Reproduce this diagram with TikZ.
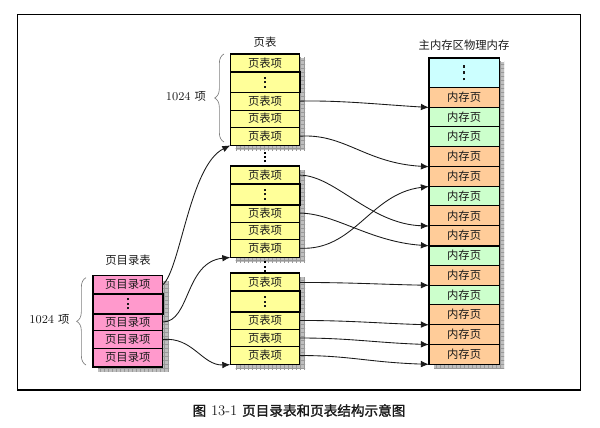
\documentclass[tikz,border=0pt]{standalone}
\usepackage{fontspec}
\newfontfamily\cjk{Noto Sans CJK SC}
\newfontfamily\cjkb[FakeBold=1.5]{Noto Sans CJK SC}
\usetikzlibrary{arrows.meta,patterns,decorations.pathreplacing}
\definecolor{dirpink}{HTML}{FF99CC}
\definecolor{ptyellow}{HTML}{FFFF99}
\definecolor{memorange}{HTML}{FFCC99}
\definecolor{memgreen}{HTML}{CCFFCC}
\definecolor{memcyan}{HTML}{CCFFFF}
\definecolor{inkc}{HTML}{1A1A1A}
\newcommand\mydots[2]{\vbox{\offinterlineskip\hbox{\rule{#1}{#1}}\vskip#2\hbox{\rule{#1}{#1}}\vskip#2\hbox{\rule{#1}{#1}}}}
\begin{document}
\begin{tikzpicture}[x=0.75pt,y=-0.75pt,
  cell/.style={draw=black, line width=0.6pt, inner sep=0pt, text=inkc, font=\cjk\fontsize{8.5}{10}\selectfont},
  dircell/.style={cell, fill=dirpink, minimum width=51.75pt},
  ptcell/.style={cell, fill=ptyellow, minimum width=51.45pt},
  memcell/.style={cell, minimum width=52.3pt, minimum height=14.82pt},
  thickline/.style={draw=black, line width=1.2pt},
  outerbox/.style={draw=black, line width=1.1pt},
  shadowbox/.style={fill=gray!50, postaction={pattern=grid, pattern color=gray!80}},
  link/.style={draw=inkc, line width=0.65pt, -{Latex[length=6pt,width=5pt]}},
  bracestyle/.style={draw=gray, line width=0.5pt, decorate, decoration={brace, amplitude=7pt}},
  lbl/.style={text=inkc, inner sep=0pt, font=\fontsize{9}{11}\selectfont},
  cjklbl/.style={text=inkc, inner sep=0pt, font=\cjk\fontsize{8.5}{10}\selectfont},
  vdotsnode/.style={inner sep=0pt, text=black}
]
\useasboundingbox (0,0) rectangle (600,428);
\draw[line width=0.9pt] (17.3,14.3) rectangle (580.5,390);

% shadows
\fill[shadowbox] (98,281) rectangle (169,371.7);
\foreach \T in {54,166,273.3}{
  \fill[shadowbox] (235.5,\T+4) rectangle (305,\T+96);
}
\fill[shadowbox] (434,62) rectangle (504,368);

% titles
\node[cjklbl] (tt) at (265,42.7) {页表};
\node[cjklbl] (td) at (128,260.7) {页目录表};
\node[cjklbl] (tm) at (464,45) {主内存区物理内存};

% directory
\node[dircell, minimum height=13.725pt] (d1) at (127.8,284.85) {页目录项};
\node[dircell, minimum height=14.475pt] (d2) at (127.8,303.65) {\mydots{1.5pt}{1.8pt}};
\node[dircell, minimum height=13.05pt] (d3) at (127.8,322) {页目录项};
\node[dircell, minimum height=13.2pt] (d4) at (127.8,339.5) {页目录项};
\node[dircell, minimum height=13.8pt] (d5) at (127.8,357.5) {页目录项};
\draw[outerbox] (d1.north west) rectangle (d5.south east);
\draw[thickline] (d2.north west) rectangle (d2.south east);

% page tables
\foreach \n/\T in {1/54,2/166,3/273.3}{
  \node[ptcell, minimum height=13.725pt] (t\n r1) at (265,\T+9.15) {页表项};
  \node[ptcell, minimum height=15pt] (t\n r2) at (265,\T+28.3) {\mydots{1.5pt}{1.8pt}};
  \node[ptcell, minimum height=13.275pt] (t\n r3) at (265,\T+47.15) {页表项};
  \node[ptcell, minimum height=13.05pt] (t\n r4) at (265,\T+64.7) {页表项};
  \node[ptcell, minimum height=13.2pt] (t\n r5) at (265,\T+82.2) {页表项};
  \draw[outerbox] (t\n r1.north west) rectangle (t\n r5.south east);
  \draw[thickline] (t\n r2.north west) rectangle (t\n r2.south east);
}
\node[vdotsnode] (g1) at (265,157) {\mydots{1.5pt}{1.8pt}};
\node[vdotsnode] (g2) at (265,266.5) {\mydots{1.5pt}{1.8pt}};

% memory
\node[memcell, fill=memcyan, minimum height=21.75pt] (m0) at (464.15,72.8) {\mydots{2pt}{2.6pt}};
\foreach \i/\c in {1/memorange,2/memgreen,3/memgreen,4/memorange,5/memorange,6/memgreen,7/memorange,8/memorange,9/memgreen,10/memorange,11/memgreen,12/memorange,13/memorange,14/memorange}{
  \node[memcell, fill=\c] (m\i) at (464.15,{87.3+19.76*(\i-0.5)}) {内存页};
}
\draw[outerbox] (m0.north west) rectangle (m14.south east);
\draw[thickline] (m0.north west) rectangle (m0.south east);
\draw[thickline] (m8.south west) -- (m8.south east);
\draw[thickline] (m13.south west) -- (m13.south east);

% braces and labels
\coordinate (b1s) at (224,142);
\coordinate (b1e) at (224,54);
\coordinate (b2s) at (86,365);
\coordinate (b2e) at (86,277.7);
\draw[bracestyle] (b1s) -- (b1e);
\draw[bracestyle] (b2s) -- (b2e);
\node[lbl] (lb1) at (186,96.7) {1024 {\cjk\fontsize{8.5}{10}\selectfont 项}};
\node[lbl] (lb2) at (49.5,319) {1024 {\cjk\fontsize{8.5}{10}\selectfont 项}};

% page table -> memory
\draw[link] (t1r3.east) .. controls +(40,-1) and +(-50,-3) .. (m1.south west);
\draw[link] (t1r5.east) .. controls +(45,-3) and +(-64,-3.7) .. (m4.south west);
\draw[link] (t2r1.east) .. controls +(35,0) and +(-59,-2) .. (m7.south west);
\draw[link] (t2r3.east) .. controls +(35,0) and +(-59,-4) .. (m8.south west);
\draw[link] (t2r5.east) .. controls +(55,3) and +(-59,7) .. (m5.south west);
\draw[link] (t3r1.east) .. controls +(50,0) and +(-50,-1) .. (m10.south west);
\draw[link] (t3r3.east) .. controls +(50,0) and +(-50,-1.5) .. (m12.south west);
\draw[link] (t3r4.east) .. controls +(50,0) and +(-55,-2) .. (m13.south west);
\draw[link] (t3r5.east) .. controls +(50,0) and +(-60,-2) .. (m14.south west);

% directory -> page tables
\draw[link] (d1.east) .. controls +(17.7,-15) and +(-40.7,20) .. (t1r5.south west);
\draw[link] (d3.east) .. controls +(27.7,0) and +(-45.7,4.7) .. (t2r5.south west);
\draw[link] (d4.east) .. controls +(30,-3) and +(-28,1) .. (t3r5.south west);

% caption
\node[lbl, font=\fontsize{11}{13}\selectfont] (cap) at (299,410.5) {{\cjkb\fontsize{10.2}{12}\selectfont 图}\ 13-1\ {\cjkb\fontsize{10.2}{12}\selectfont 页目录表和页表结构示意图}};
\end{tikzpicture}
\end{document}
